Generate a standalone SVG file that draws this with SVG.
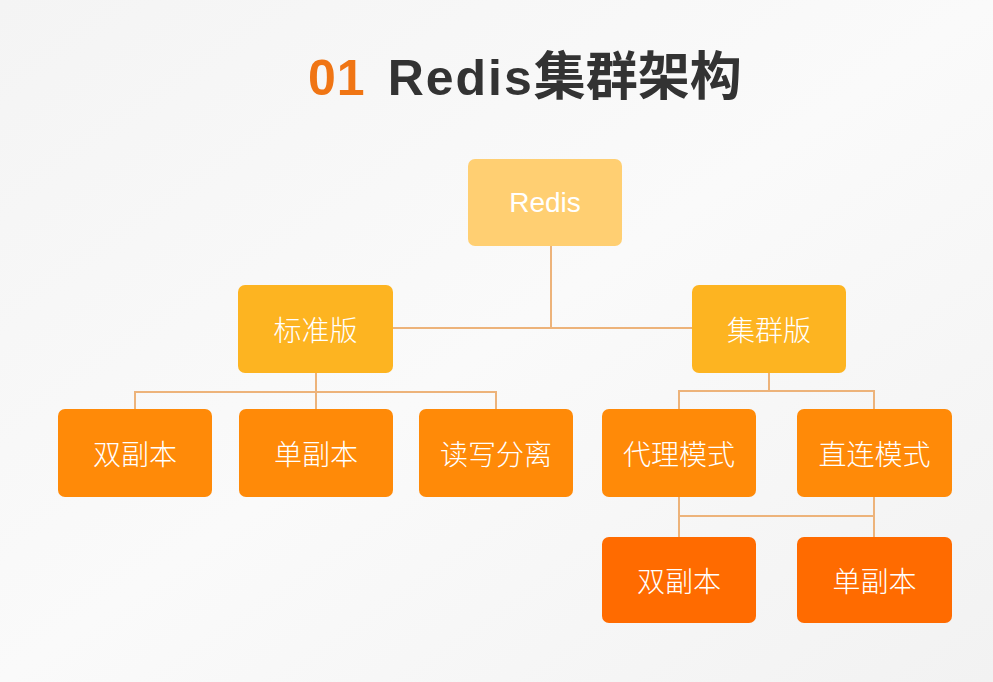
<svg xmlns="http://www.w3.org/2000/svg" width="993" height="682" viewBox="0 0 993 682">
<defs>
<linearGradient id="bg" x1="0" y1="0" x2="1" y2="1">
<stop offset="0" stop-color="#F4F4F4"/>
<stop offset="0.5" stop-color="#FAFAFA"/>
<stop offset="1" stop-color="#F2F2F2"/>
</linearGradient>
</defs>
<style>
.box{stroke:none}
.l1{fill:#FFCF72}
.l2{fill:#FDB421}
.l3{fill:#FF8A08}
.l4{fill:#FF6B00}
.lbl{font-family:"Noto Sans CJK SC","Liberation Sans",sans-serif;font-size:28px;font-weight:300;fill:#FFFFFF;text-anchor:middle;dominant-baseline:central}
.lbl-en{font-family:"Liberation Sans",Arial,sans-serif;font-size:28px;fill:#FFFFFF;text-anchor:middle;dominant-baseline:central}
.conn{fill:none;stroke:#EDB37A;stroke-width:2}
.title{font-family:"Liberation Sans","Noto Sans CJK SC",sans-serif;font-size:50px;font-weight:bold}
</style>
<rect x="0" y="0" width="993" height="682" fill="url(#bg)"/>
<g id="title">
<text class="title" x="308" y="95"><tspan fill="#F07514" letter-spacing="1">01</tspan><tspan fill="#333333" dx="22" letter-spacing="2">Redis</tspan><tspan fill="#333333" font-family="Noto Sans CJK SC, sans-serif" font-size="52px">集群架构</tspan></text>
</g>
<g id="connectors">
<path class="conn" d="M551 246 V328 M393 328 H692"/>
<path class="conn" d="M316 373 V409 M135 409 V392 H496 V409"/>
<path class="conn" d="M769 373 V391 M679 409 V391 H874 V409"/>
<path class="conn" d="M679 497 V537 M874 497 V537 M679 516 H874"/>
</g>
<g id="node-redis"><rect class="box l1" x="468" y="159" width="154" height="87" rx="7"/><text class="lbl-en" x="545" y="202">Redis</text></g>
<g id="node-standard"><rect class="box l2" x="238" y="285" width="155" height="88" rx="7"/><text class="lbl" x="315.5" y="329">标准版</text></g>
<g id="node-cluster"><rect class="box l2" x="692" y="285" width="154" height="88" rx="7"/><text class="lbl" x="769" y="329">集群版</text></g>
<g id="node-std-double"><rect class="box l3" x="58" y="409" width="154" height="88" rx="7"/><text class="lbl" x="135" y="453">双副本</text></g>
<g id="node-std-single"><rect class="box l3" x="239" y="409" width="154" height="88" rx="7"/><text class="lbl" x="316" y="453">单副本</text></g>
<g id="node-std-rw"><rect class="box l3" x="419" y="409" width="154" height="88" rx="7"/><text class="lbl" x="496" y="453">读写分离</text></g>
<g id="node-proxy"><rect class="box l3" x="602" y="409" width="154" height="88" rx="7"/><text class="lbl" x="679" y="453">代理模式</text></g>
<g id="node-direct"><rect class="box l3" x="797" y="409" width="155" height="88" rx="7"/><text class="lbl" x="874.5" y="453">直连模式</text></g>
<g id="node-cl-double"><rect class="box l4" x="602" y="537" width="154" height="86" rx="7"/><text class="lbl" x="679" y="580">双副本</text></g>
<g id="node-cl-single"><rect class="box l4" x="797" y="537" width="155" height="86" rx="7"/><text class="lbl" x="874.5" y="580">单副本</text></g>
</svg>
